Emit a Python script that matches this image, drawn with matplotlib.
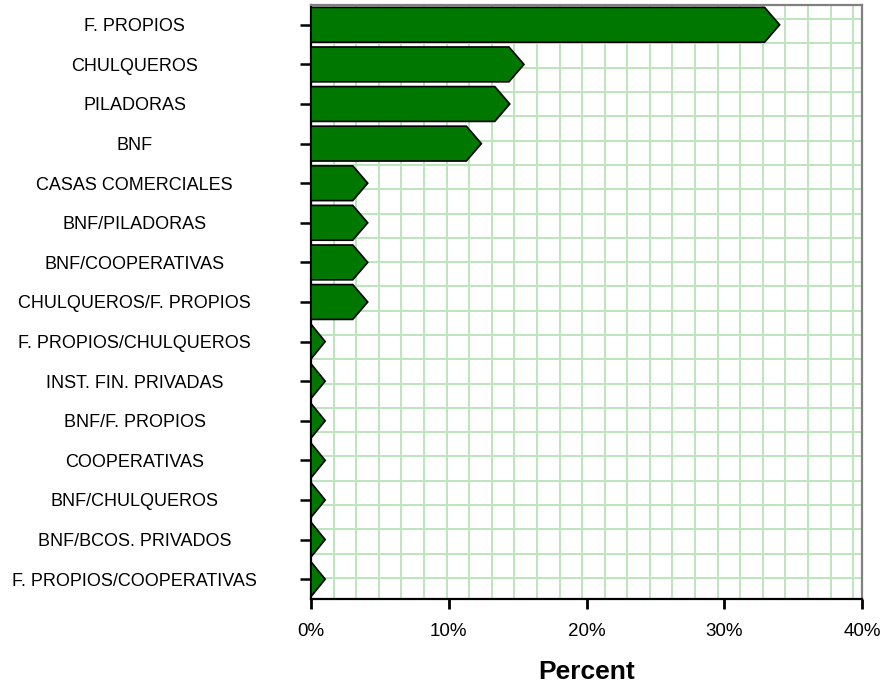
import numpy as np
import matplotlib
matplotlib.use("Agg")
import matplotlib.pyplot as plt
from matplotlib.patches import Polygon
from matplotlib.ticker import FuncFormatter

categories = [
    "F. PROPIOS", "CHULQUEROS", "PILADORAS", "BNF", "CASAS COMERCIALES",
    "BNF/PILADORAS", "BNF/COOPERATIVAS", "CHULQUEROS/F. PROPIOS",
    "F. PROPIOS/CHULQUEROS", "INST. FIN. PRIVADAS", "BNF/F. PROPIOS",
    "COOPERATIVAS", "BNF/CHULQUEROS", "BNF/BCOS. PRIVADOS",
    "F. PROPIOS/COOPERATIVAS",
]
percent = [34.02, 15.46, 14.43, 12.37, 4.12, 4.12, 4.12, 4.12,
           1.03, 1.03, 1.03, 1.03, 1.03, 1.03, 1.03]
xticks = [0, 10, 20, 30, 40]

plt.rcParams['font.family'] = ['Liberation Sans', 'DejaVu Sans']

W, H = 884, 692
fig = plt.figure(figsize=(W / 100, H / 100), dpi=100)
ax = fig.add_axes([311 / W, 1 - 599 / H, (862 - 311) / W, (599 - 5) / H])

n = len(categories)
ypos = np.arange(n)
ax.set_xlim(0, 40)
ax.set_ylim(n - 0.5, -0.5)

# background grid (light green)
grid_step = 0.041
gx = np.arange(grid_step, 1.0, grid_step)
for g in gx:
    ax.plot([g, g], [0, 1], transform=ax.transAxes, color='#bde6bd', lw=1.4, zorder=1)
gy = np.arange(0.0354, 1.0, 0.0409)
for g in gy:
    ax.plot([0, 1], [g, g], transform=ax.transAxes, color='#bde6bd', lw=1.4, zorder=1)

bar_h = 0.88
head = 1.09
for y, v in zip(ypos, percent):
    body = max(v - head, 0)
    pts = [(0, y - bar_h / 2), (body, y - bar_h / 2), (v, y),
           (body, y + bar_h / 2), (0, y + bar_h / 2)]
    ax.add_patch(Polygon(pts, closed=True, facecolor='#007800',
                         edgecolor='black', lw=1.2, zorder=3, joinstyle='miter'))

ax.set_yticks(ypos)
ax.set_yticklabels(categories, ha='center', fontsize=13)
ax.tick_params(axis='y', length=8, width=1.8, pad=119, color='black')
ax.set_xticks(xticks)
ax.xaxis.set_major_formatter(FuncFormatter(lambda x, p: f"{int(x)}%"))
ax.tick_params(axis='x', length=7.5, width=2, pad=10, labelsize=13.5, color='black')
ax.set_xlabel("Percent", fontsize=19, fontweight='bold', labelpad=14)

for s in ['left', 'bottom']:
    ax.spines[s].set_color('black')
    ax.spines[s].set_linewidth(1.6)
for s in ['top', 'right']:
    ax.spines[s].set_color('#808080')
    ax.spines[s].set_linewidth(1.6)
ax.set_facecolor('white')

fig.savefig("out.png", dpi=100, facecolor='white')
